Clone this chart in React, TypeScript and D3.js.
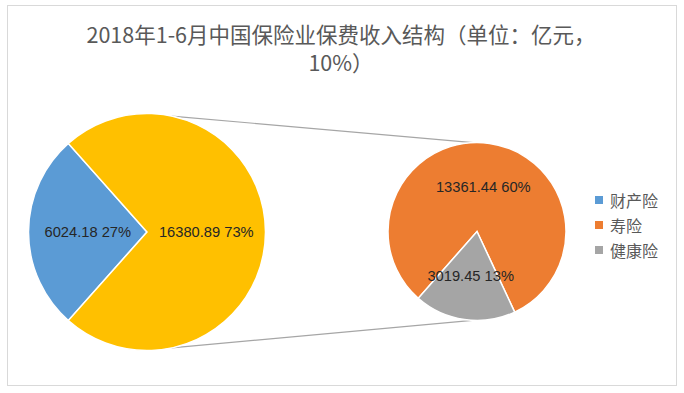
import React from "react";
import * as d3 from "d3";

const titleLines = ["2018年1-6月中国保险业保费收入结构（单位：亿元，", "10%）"];
const categories = ["财产险", "寿险", "健康险"];
const values = [6024.18, 13361.44, 3019.45];
const colors = ["#5B9BD5", "#ED7D31", "#A5A5A5"];
const otherColor = "#FFC000";

const W = 684;
const H = 393;
const deg = Math.PI / 180;

export default function App() {
  const total = d3.sum(values);
  const otherValue = values[1] + values[2];
  const mainData = [
    { name: categories[0], value: values[0], color: colors[0] },
    { name: "其他", value: otherValue, color: otherColor },
  ];
  const secData = [
    { name: categories[1], value: values[1], color: colors[1] },
    { name: categories[2], value: values[2], color: colors[2] },
  ];

  const mainC = { x: 147, y: 232, r: 118.5 };
  const secC = { x: 477, y: 231.5, r: 89 };

  const blueFrac = values[0] / total;
  const mainStart = (270 - blueFrac * 180) * deg;
  const mainPie = d3.pie<any>().sort(null).value((d) => d.value).startAngle(mainStart).endAngle(mainStart + 2 * Math.PI);
  const secStart = 221.3 * deg;
  const secPie = d3.pie<any>().sort(null).value((d) => d.value).startAngle(secStart).endAngle(secStart + 2 * Math.PI);

  const mainArc = d3.arc<any>().innerRadius(0).outerRadius(mainC.r);
  const secArc = d3.arc<any>().innerRadius(0).outerRadius(secC.r);

  const fmtPct = d3.format(".0%");
  const label = (v: number) => `${v.toFixed(2)} ${fmtPct(v / total)}`;

  const polar = (c: { x: number; y: number; r: number }, a: number) => [
    c.x + c.r * Math.sin(a * deg),
    c.y - c.r * Math.cos(a * deg),
  ];
  const connectors = [
    [polar(mainC, 12), polar(secC, -2.5)],
    [polar(mainC, 168), polar(secC, 183)],
  ];

  const labelFont = "'Liberation Sans', Arial, sans-serif";
  const cjkFont = "'Noto Sans CJK SC', 'Noto Sans', sans-serif";

  return (
    <svg width={W} height={H} style={{ position: "absolute", left: 0, top: 0 }}>
      <rect x={0} y={0} width={W} height={H} fill="#fff" />
      <rect x={7.5} y={5.5} width={669} height={380} fill="#fff" stroke="#d9d9d9" strokeWidth={1} />
      {titleLines.map((t, i) => (
        <text key={i} x={341} y={33 + i * 28} textAnchor="middle" dominantBaseline="central"
          fontFamily={cjkFont} fontSize={21.5} fill="#595959">{t}</text>
      ))}
      {connectors.map((l, i) => (
        <line key={i} x1={l[0][0]} y1={l[0][1]} x2={l[1][0]} y2={l[1][1]} stroke="#a6a6a6" strokeWidth={1.2} />
      ))}
      <g transform={`translate(${mainC.x},${mainC.y})`}>
        {mainPie(mainData).map((a, i) => (
          <path key={i} d={mainArc(a) || ""} fill={a.data.color} stroke="#fff" strokeWidth={1.5} />
        ))}
        {mainPie(mainData).map((a, i) => {
          const [cx, cy] = mainArc.centroid(a);
          return (
            <text key={i} x={cx} y={cy} textAnchor="middle" dominantBaseline="central"
              fontFamily={labelFont} fontSize={14.7} fill="#262626">{label(a.data.value)}</text>
          );
        })}
      </g>
      <g transform={`translate(${secC.x},${secC.y})`}>
        {secPie(secData).map((a, i) => (
          <path key={i} d={secArc(a) || ""} fill={a.data.color} stroke="#fff" strokeWidth={1.5} />
        ))}
        {secPie(secData).map((a, i) => {
          const [cx, cy] = secArc.centroid(a);
          return (
            <text key={i} x={cx} y={cy} textAnchor="middle" dominantBaseline="central"
              fontFamily={labelFont} fontSize={14.7} fill="#262626">{label(a.data.value)}</text>
          );
        })}
      </g>
      {categories.map((c, i) => (
        <g key={c} transform={`translate(595,${200 + i * 25})`}>
          <rect x={0} y={-4} width={8} height={8} fill={colors[i]} />
          <text x={15} y={0} dominantBaseline="central" fontFamily={cjkFont} fontSize={16} fill="#595959">{c}</text>
        </g>
      ))}
    </svg>
  );
}
